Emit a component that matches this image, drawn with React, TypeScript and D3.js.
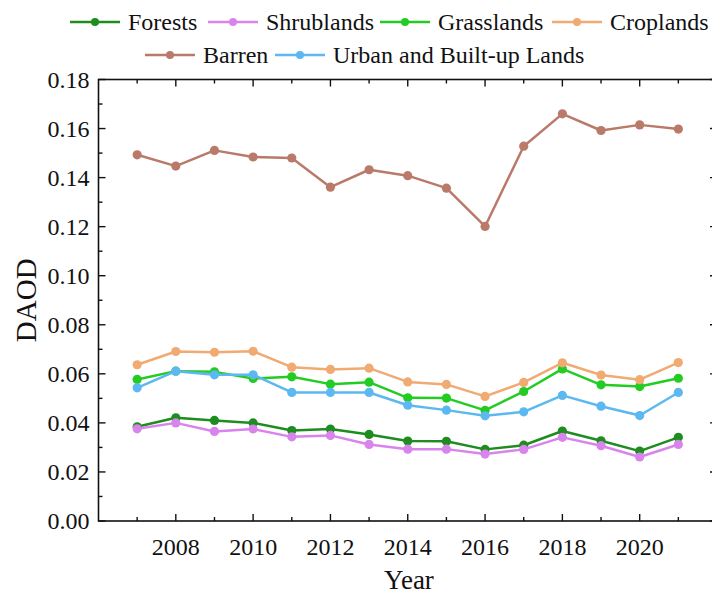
import React from "react";
import * as d3 from "d3";

const years = [2007, 2008, 2009, 2010, 2011, 2012, 2013, 2014, 2015, 2016, 2017, 2018, 2019, 2020, 2021];

const forests = [0.0384, 0.0421, 0.041, 0.04, 0.0369, 0.0375, 0.0353, 0.0326, 0.0325, 0.0292, 0.0309, 0.0367, 0.0327, 0.0285, 0.0341];
const shrublands = [0.0376, 0.04, 0.0365, 0.0375, 0.0343, 0.0349, 0.0312, 0.0293, 0.0293, 0.0273, 0.0292, 0.0341, 0.0307, 0.0261, 0.0312];
const grasslands = [0.0577, 0.0611, 0.0608, 0.0581, 0.0588, 0.0558, 0.0566, 0.0502, 0.0501, 0.0451, 0.0528, 0.062, 0.0555, 0.0548, 0.0582];
const croplands = [0.0637, 0.0691, 0.0688, 0.0692, 0.0627, 0.0618, 0.0623, 0.0567, 0.0557, 0.0508, 0.0565, 0.0645, 0.0595, 0.0576, 0.0646];
const barren = [0.1493, 0.1447, 0.1511, 0.1484, 0.148, 0.1361, 0.1432, 0.1408, 0.1357, 0.1201, 0.1528, 0.166, 0.1592, 0.1615, 0.1598];
const urban = [0.0543, 0.0611, 0.0596, 0.0596, 0.0524, 0.0524, 0.0524, 0.0472, 0.0452, 0.0429, 0.0445, 0.0512, 0.0468, 0.043, 0.0524];

const yTicks = [0, 0.02, 0.04, 0.06, 0.08, 0.1, 0.12, 0.14, 0.16, 0.18];
const xTickYears = [2008, 2010, 2012, 2014, 2016, 2018, 2020];

const seriesList = [
  { name: "Forests", values: forests, color: "#1f8c1f" },
  { name: "Shrublands", values: shrublands, color: "#d983ec" },
  { name: "Grasslands", values: grasslands, color: "#22cc22" },
  { name: "Croplands", values: croplands, color: "#f0aa72" },
  { name: "Barren", values: barren, color: "#b97a6a" },
  { name: "Urban and Built-up Lands", values: urban, color: "#5cb8f0" },
];

// Legend rows: [series index, line start x]
const legendRow1 = [
  { i: 0, x: 70 },
  { i: 1, x: 208 },
  { i: 2, x: 380 },
  { i: 3, x: 552 },
];
const legendRow2 = [
  { i: 4, x: 145 },
  { i: 5, x: 275 },
];

const W = 712;
const H = 597;
const FONT = "'Liberation Serif', 'Times New Roman', serif";

export default function App() {
  const left = 98.5;
  const right = 717;
  const top = 79.5;
  const bottom = 521;

  const x = d3.scaleLinear().domain([2006, 2022]).range([left, right]);
  const y = d3.scaleLinear().domain([0, 0.18]).range([bottom, top]);

  const line = d3
    .line<number>()
    .x((_, i) => x(years[i]))
    .y((d) => y(d));

  const minorY = d3.range(0, 0.1801, 0.01);
  const allYears = d3.range(2007, 2022);

  const legendItem = (it: { i: number; x: number }, cy: number) => {
    const s = seriesList[it.i];
    return (
      <g key={s.name}>
        <line x1={it.x} x2={it.x + 50} y1={cy} y2={cy} stroke={s.color} strokeWidth={2.5} />
        <circle cx={it.x + 25} cy={cy} r={4} fill={s.color} />
        <text x={it.x + 58} y={cy} dy="0.35em" fontSize={24} fontFamily={FONT} fill="#111">
          {s.name}
        </text>
      </g>
    );
  };

  return (
    <svg
      width={W}
      height={H}
      viewBox={`0 0 ${W} ${H}`}
      style={{ position: "absolute", left: 0, top: 0, background: "#fff" }}
    >
      <rect width={W} height={H} fill="#fff" />

      {/* frame */}
      <rect x={left} y={top} width={right - left} height={bottom - top} fill="none" stroke="#111" strokeWidth={1.6} />

      {/* y ticks (inward, left and right) */}
      {minorY.map((v, k) => {
        const major = k % 2 === 0;
        const len = major ? 7 : 4;
        return (
          <g key={"yt" + k}>
            <line x1={left} x2={left + len} y1={y(v)} y2={y(v)} stroke="#111" strokeWidth={1.4} />
            <line x1={right} x2={right - len} y1={y(v)} y2={y(v)} stroke="#111" strokeWidth={1.4} />
          </g>
        );
      })}

      {/* x ticks (inward, bottom and top) */}
      {allYears.map((yr) => {
        const major = yr % 2 === 0;
        const len = major ? 7 : 4;
        return (
          <g key={"xt" + yr}>
            <line x1={x(yr)} x2={x(yr)} y1={bottom} y2={bottom - len} stroke="#111" strokeWidth={1.4} />
            <line x1={x(yr)} x2={x(yr)} y1={top} y2={top + len} stroke="#111" strokeWidth={1.4} />
          </g>
        );
      })}

      {/* y tick labels */}
      {yTicks.map((v) => (
        <text
          key={"yl" + v}
          x={left - 9}
          y={y(v)}
          dy="0.35em"
          textAnchor="end"
          fontSize={24}
          fontFamily={FONT}
          fill="#111"
        >
          {v.toFixed(2)}
        </text>
      ))}

      {/* x tick labels */}
      {xTickYears.map((yr) => (
        <text
          key={"xl" + yr}
          x={x(yr)}
          y={bottom + 26}
          dy="0.35em"
          textAnchor="middle"
          fontSize={24}
          fontFamily={FONT}
          fill="#111"
        >
          {yr}
        </text>
      ))}

      {/* axis titles */}
      <text
        x={0}
        y={0}
        transform={`translate(26, ${(top + bottom) / 2}) rotate(-90)`}
        dy="0.35em"
        textAnchor="middle"
        fontSize={29}
        fontFamily={FONT}
        fill="#111"
      >
        DAOD
      </text>
      <text x={409} y={589} textAnchor="middle" fontSize={27} fontFamily={FONT} fill="#111">
        Year
      </text>

      {/* series */}
      {seriesList.map((s) => (
        <g key={s.name}>
          <path d={line(s.values) || ""} fill="none" stroke={s.color} strokeWidth={2.5} strokeLinejoin="round" />
          {s.values.map((v, i) => (
            <circle key={i} cx={x(years[i])} cy={y(v)} r={4.6} fill={s.color} />
          ))}
        </g>
      ))}

      {/* legend */}
      {legendRow1.map((it) => legendItem(it, 22))}
      {legendRow2.map((it) => legendItem(it, 55))}
    </svg>
  );
}
